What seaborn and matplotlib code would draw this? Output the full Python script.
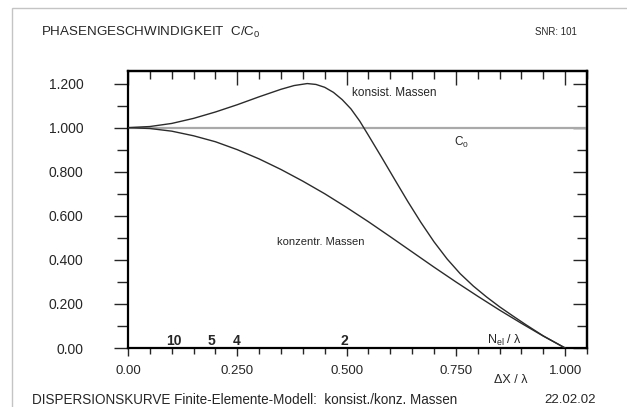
import numpy as np
import pandas as pd
import matplotlib
matplotlib.use('Agg')
import matplotlib.pyplot as plt
import seaborn as sns
from matplotlib.ticker import MultipleLocator
from matplotlib.patches import Rectangle

# Werte (Delta x / lambda -> C/C0)
x_konsist = [0.00, 0.05, 0.10, 0.15, 0.20, 0.25, 0.30, 0.35, 0.38, 0.41, 0.43, 0.45,
             0.47, 0.49, 0.51, 0.53, 0.55, 0.58, 0.61, 0.64, 0.67, 0.70, 0.73, 0.76,
             0.79, 0.82, 0.85, 0.88, 0.91, 0.95, 1.00]
c_konsist = [1.000, 1.005, 1.019, 1.042, 1.071, 1.104, 1.140, 1.174, 1.191, 1.200, 1.196, 1.183,
             1.160, 1.127, 1.085, 1.030, 0.965, 0.866, 0.765, 0.665, 0.570, 0.482, 0.404, 0.337,
             0.281, 0.232, 0.187, 0.146, 0.106, 0.055, 0.000]

x_konzentr = [0.00, 0.05, 0.10, 0.15, 0.20, 0.25, 0.30, 0.35, 0.40, 0.45, 0.50, 0.55,
              0.60, 0.65, 0.70, 0.75, 0.80, 0.85, 0.90, 0.95, 1.00]
c_konzentr = [1.000, 0.996, 0.984, 0.963, 0.936, 0.900, 0.858, 0.810, 0.757, 0.700, 0.638, 0.573,
              0.505, 0.436, 0.367, 0.300, 0.235, 0.172, 0.112, 0.054, 0.000]

c0_ratio = 1.0

# Elemente pro Wellenlaenge
nel_labels = ['10', '5', '4', '2']
nel_x = [0.105, 0.19, 0.249, 0.494]

x_ticks = [0.0, 0.25, 0.5, 0.75, 1.0]
x_ticklabels = ['0.00', '0.250', '0.500', '0.750', '1.000']
y_ticks = [0.0, 0.2, 0.4, 0.6, 0.8, 1.0, 1.2]
y_ticklabels = ['0.00', '0.200', '0.400', '0.600', '0.800', '1.000', '1.200']

sns.set_style('ticks')
plt.rcParams['font.family'] = ['Liberation Sans', 'DejaVu Sans']
plt.rcParams['mathtext.default'] = 'regular'

W, H = 627, 407
fig = plt.figure(figsize=(W / 100, H / 100), dpi=100)
ax = fig.add_axes([128 / W, 59 / H, 459 / W, 277 / H])

line_col = '#2b2b2b'
ax.axhline(c0_ratio, color='#a9a9a9', lw=1.6, zorder=1)
sns.lineplot(x=x_konsist, y=c_konsist, ax=ax, color=line_col, lw=1.0, zorder=3)
sns.lineplot(x=x_konzentr, y=c_konzentr, ax=ax, color=line_col, lw=1.0, zorder=3)

ax.set_xlim(0, 1.05)
ax.set_ylim(0, 1.257)

ax.set_xticks(x_ticks, x_ticklabels)
ax.set_yticks(y_ticks, y_ticklabels)
ax.xaxis.set_minor_locator(MultipleLocator(0.05))
ax.yaxis.set_minor_locator(MultipleLocator(0.1))
ax.tick_params(axis='x', which='major', direction='out', length=6, width=1, pad=6, labelsize=9.5)
ax.tick_params(axis='x', which='minor', direction='out', length=4, width=1)
ax.tick_params(axis='y', which='major', direction='out', length=10, width=1, pad=22, labelsize=10)
ax.tick_params(axis='y', which='minor', direction='out', length=8, width=1)
ax.tick_params(top=False, right=False, which='both')

top = ax.secondary_xaxis('top')
top.set_xticks(x_ticks)
top.xaxis.set_minor_locator(MultipleLocator(0.05))
top.tick_params(which='major', direction='in', length=10, width=1, labeltop=False)
top.tick_params(which='minor', direction='in', length=6, width=1)
right = ax.secondary_yaxis('right')
right.set_yticks(y_ticks)
right.yaxis.set_minor_locator(MultipleLocator(0.1))
right.tick_params(which='major', direction='in', length=10, width=1, labelright=False)
right.tick_params(which='minor', direction='in', length=7, width=1)

for a in (ax, top, right):
    for sp in a.spines.values():
        sp.set_linewidth(1.6)
        sp.set_color('black')
for sp in ax.spines.values():
    sp.set_visible(True)

ax.set_xlabel('ΔX / λ', fontsize=9)
ax.xaxis.set_label_coords((511 - 128) / 459, -(380 - 348) / 277)
ax.xaxis.label.set_va('center')

ax.text(0.513, 1.155, 'konsist. Massen', fontsize=8.5, va='center', ha='left')
ax.text(0.762, 0.935, 'C$_0$', fontsize=8.5, va='center', ha='center')
ax.text(0.341, 0.483, 'konzentr. Massen', fontsize=8, va='center', ha='left')
for lab, xp in zip(nel_labels, nel_x):
    ax.text(xp, 0.033, lab, fontsize=10, fontweight='bold', va='center', ha='center')
ax.text(0.862, 0.034, 'N$_{el}$ / λ', fontsize=9, va='center', ha='center')

fig.text(41 / W, 1 - 32 / H, 'PHASENGESCHWINDIGKEIT  C/C$_0$', fontsize=9.6, va='center', ha='left')
fig.text(577 / W, 1 - 32 / H, 'SNR: 101', fontsize=7, va='center', ha='right')
fig.text(32 / W, 1 - 400 / H, 'DISPERSIONSKURVE Finite-Elemente-Modell:  konsist./konz. Massen',
         fontsize=9.75, va='center', ha='left')
fig.text(596 / W, 1 - 400 / H, '22.02.02', fontsize=9.5, va='center', ha='right')

fig.patches.append(Rectangle((12 / W, -0.05), 1.1, 1 - 8 / H + 0.05, transform=fig.transFigure,
                             fill=False, edgecolor='#c4c4c4', lw=1.0))

fig.savefig('out.png', dpi=100)
